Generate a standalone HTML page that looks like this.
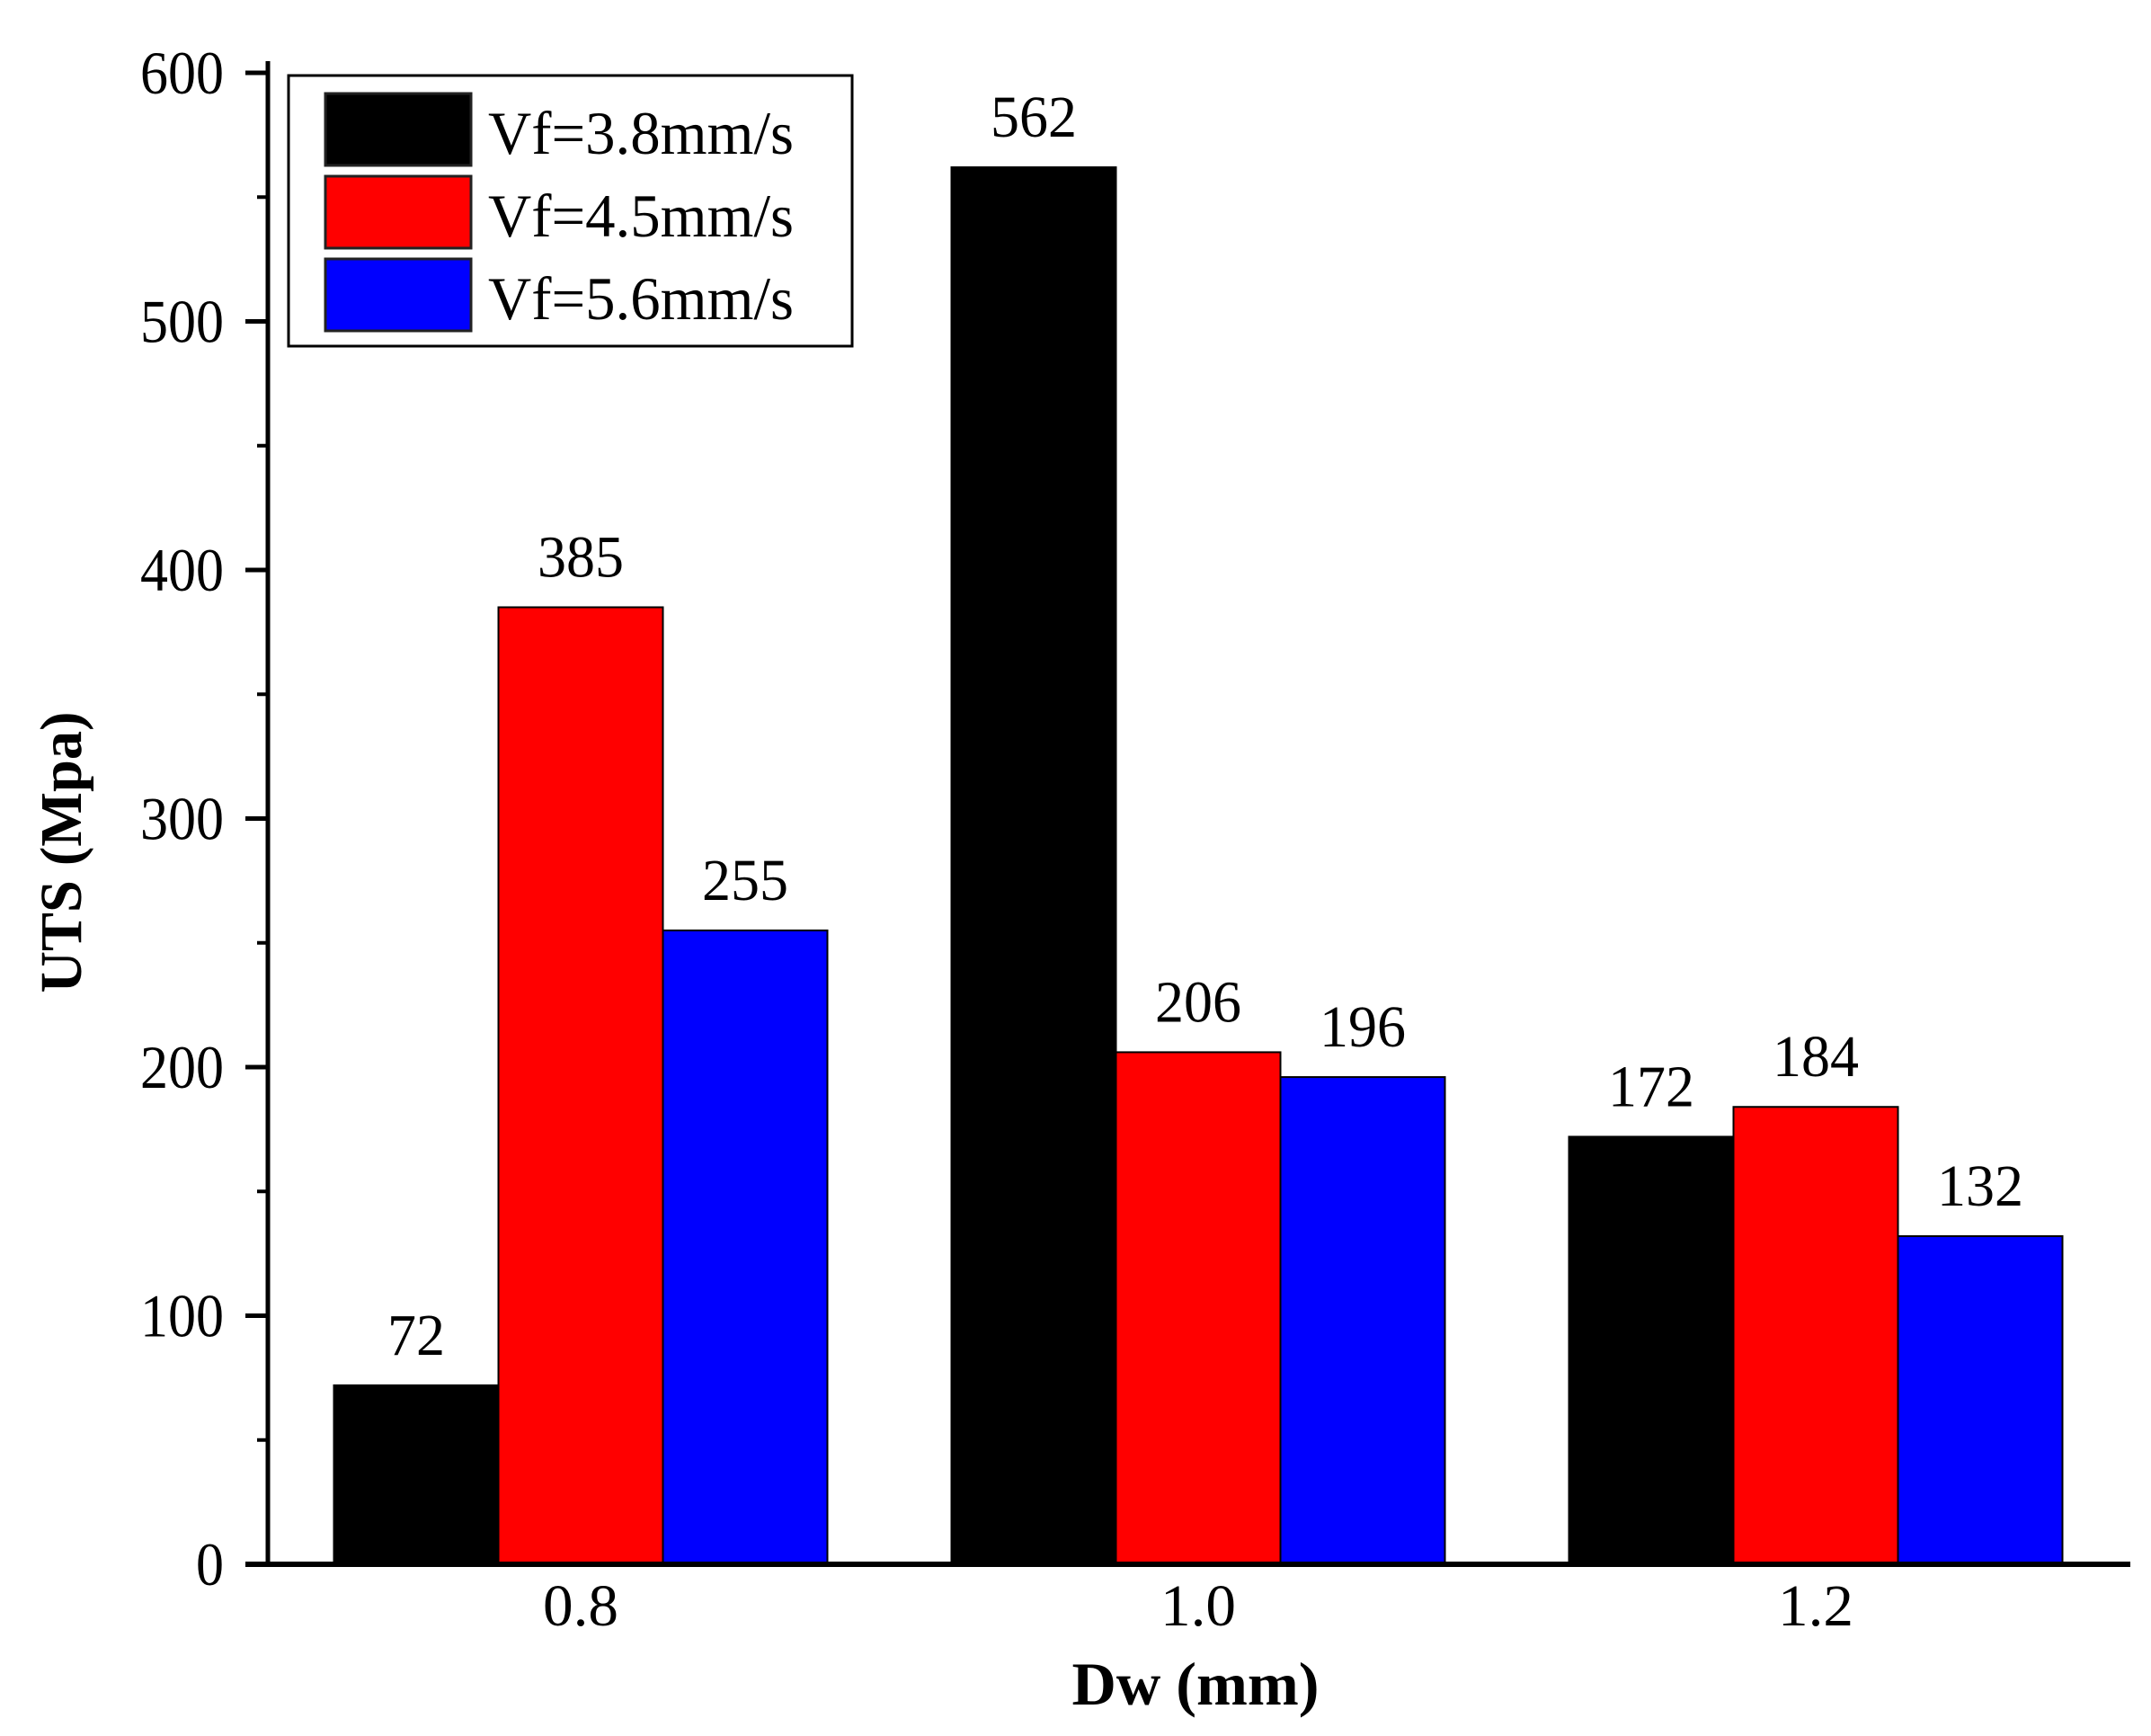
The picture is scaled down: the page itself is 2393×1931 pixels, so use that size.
<!DOCTYPE html>
<html><head><meta charset="utf-8"><style>
html,body{margin:0;padding:0;background:#fff}
svg{display:block}
text{font-family:"Liberation Serif",serif;fill:#000}
</style></head><body>
<svg id="chart" width="2393" height="1931" viewBox="0 0 2393 1931" xmlns="http://www.w3.org/2000/svg">
<g id="bars"></g>
<g id="axes"></g>
<g id="labels"></g>
<g id="legend"></g>
<text x="0" y="0" transform="translate(90,948) rotate(-90)" text-anchor="middle" font-size="66" font-weight="bold" textLength="313" lengthAdjust="spacingAndGlyphs">UTS (Mpa)</text>
<text x="1330" y="1896" text-anchor="middle" font-size="68" font-weight="bold" textLength="275" lengthAdjust="spacingAndGlyphs">Dw (mm)</text>
</svg>
<script>
const categories = ["0.8", "1.0", "1.2"];
const seriesNames = ["Vf=3.8mm/s", "Vf=4.5mm/s", "Vf=5.6mm/s"];
const seriesColors = ["#000000", "#ff0000", "#0000ff"];
const vf38 = [72, 562, 172];
const vf45 = [385, 206, 184];
const vf56 = [255, 196, 132];
const yTicks = [0, 100, 200, 300, 400, 500, 600];
const yMinorTicks = [50, 150, 250, 350, 450, 550];

const NS = "http://www.w3.org/2000/svg";
const series = [vf38, vf45, vf56];
const x0 = 298, y0 = 1740, yTop = 81, yMax = 600;
const groupStart = 371.5, groupStep = 687, barW = 183;
function yScale(v){ return y0 - (v / yMax) * (y0 - yTop); }
function xBar(ci, si){ return groupStart + ci * groupStep + si * barW; }
function mk(tag, attrs, parent){ const e = document.createElementNS(NS, tag); for (const k in attrs) e.setAttribute(k, attrs[k]); parent.appendChild(e); return e; }

const gB = document.getElementById('bars');
const gL = document.getElementById('labels');
series.forEach((vals, si) => {
  vals.forEach((v, ci) => {
    const r = mk('rect', {x: xBar(ci, si), y: yScale(v), width: barW, height: y0 - yScale(v), fill: seriesColors[si], stroke: '#000', 'stroke-width': 2}, gB);
    
    
    const s = String(v);
    const t = mk('text', {x: xBar(ci, si) + barW / 2, y: yScale(v) - 34, 'text-anchor': 'middle', 'font-size': 66, textLength: 32 * s.length, lengthAdjust: 'spacingAndGlyphs'}, gL);
    t.textContent = s;
    
    
  });
});

const gA = document.getElementById('axes');
const ya = mk('line', {x1: x0, y1: 68, x2: x0, y2: y0 + 2, stroke: '#000', 'stroke-width': 5}, gA);


const xa = mk('line', {x1: x0 - 25, y1: y0, x2: 2370, y2: y0, stroke: '#000', 'stroke-width': 6}, gA);


yTicks.forEach(v => {
  const tk = mk('line', {x1: x0 - 25, y1: yScale(v), x2: x0, y2: yScale(v), stroke: '#000', 'stroke-width': 5}, gA);
  
  
  const s = String(v);
  const t = mk('text', {x: 249, y: yScale(v) + 23, 'text-anchor': 'end', 'font-size': 68, textLength: 31 * s.length, lengthAdjust: 'spacingAndGlyphs'}, gA);
  t.textContent = s;
  
  
});
yMinorTicks.forEach(v => {
  const tk = mk('line', {x1: x0 - 12, y1: yScale(v), x2: x0, y2: yScale(v), stroke: '#000', 'stroke-width': 4}, gA);
  
  
});
categories.forEach((c, ci) => {
  const t = mk('text', {x: groupStart + ci * groupStep + barW * 1.5, y: 1808, 'text-anchor': 'middle', 'font-size': 66, textLength: 84, lengthAdjust: 'spacingAndGlyphs'}, gA);
  t.textContent = c;
  
  
});

const gG = document.getElementById('legend');
const box = mk('rect', {x: 321, y: 84, width: 627, height: 301, fill: '#fff', stroke: '#000', 'stroke-width': 3}, gG);


seriesNames.forEach((n, i) => {
  const yy = 104 + i * 92;
  const sw = mk('rect', {x: 362, y: yy, width: 162, height: 80, fill: seriesColors[i], stroke: '#222', 'stroke-width': 3}, gG);
  
  
  const t = mk('text', {x: 543, y: yy + 67, 'font-size': 68, textLength: 340, lengthAdjust: 'spacingAndGlyphs'}, gG);
  t.textContent = n;
  
  
});
</script>
</body></html>
